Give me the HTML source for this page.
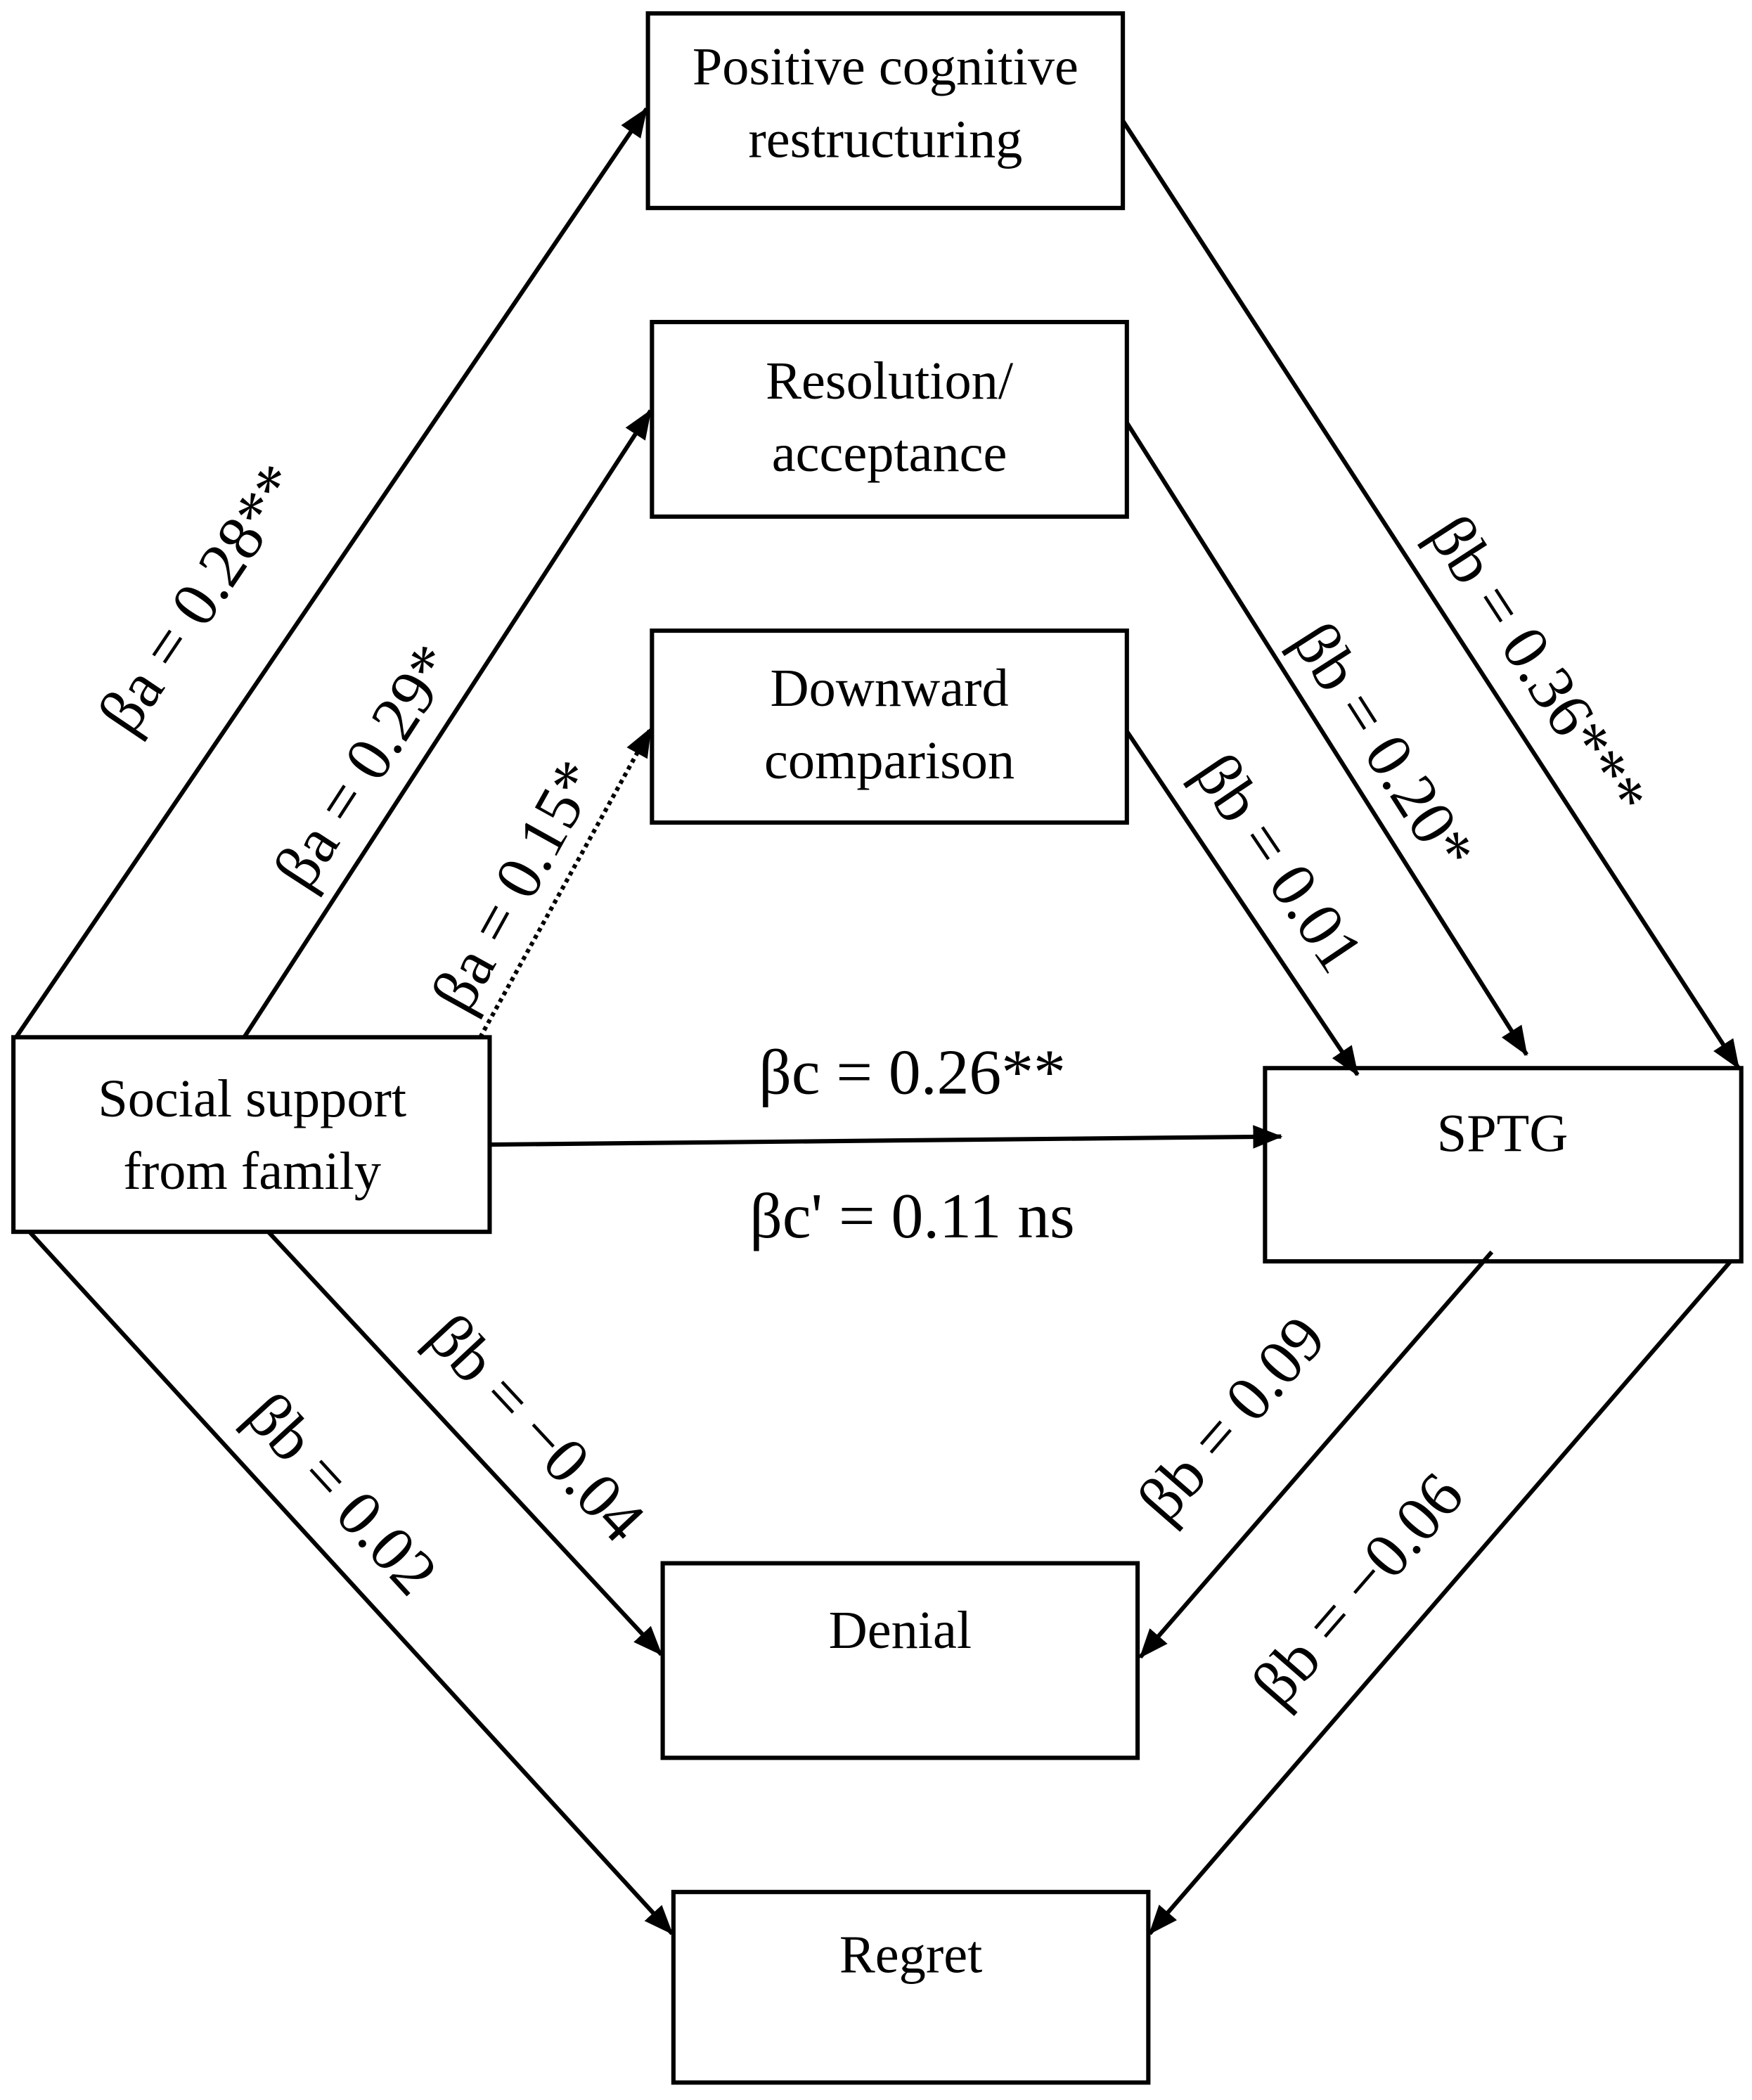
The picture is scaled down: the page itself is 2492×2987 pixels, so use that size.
<!DOCTYPE html>
<html><head><meta charset="utf-8"><style>
html,body{margin:0;padding:0;background:#fff;}
svg{display:block;}
text{font-family:"Liberation Serif",serif;fill:#000;}
</style></head><body>
<svg width="2492" height="2987" viewBox="0 0 1306 1565" preserveAspectRatio="none" xmlns="http://www.w3.org/2000/svg">
<defs>
<marker id="ar" viewBox="0 0 20 20" refX="19" refY="10" markerWidth="22" markerHeight="22" markerUnits="userSpaceOnUse" orient="auto">
<path d="M0,2 L20,10 L0,18 Z" fill="#000"/>
</marker>
</defs>
<g fill="#fff" stroke="#000" stroke-width="3.2">
<rect x="483" y="10" width="354" height="145"/>
<rect x="486" y="240" width="354" height="145"/>
<rect x="486" y="470" width="354" height="143"/>
<rect x="10" y="773" width="355" height="145"/>
<rect x="943" y="796" width="355" height="144"/>
<rect x="494" y="1165" width="354" height="145"/>
<rect x="502" y="1410" width="354" height="142"/>
</g>
<g stroke="#000" stroke-width="3.2" fill="none" marker-end="url(#ar)">
<line x1="12" y1="773" x2="482" y2="81"/>
<line x1="182" y1="773" x2="485" y2="306"/>
<line x1="358" y1="773" x2="485" y2="543" stroke-dasharray="3,3"/>
<line x1="837" y1="90" x2="1296" y2="796"/>
<line x1="840" y1="315" x2="1138" y2="786"/>
<line x1="840" y1="545" x2="1012" y2="801"/>
<line x1="365" y1="853" x2="955" y2="847"/>
<line x1="22" y1="918" x2="501" y2="1441"/>
<line x1="200" y1="918" x2="493" y2="1233"/>
<line x1="1112" y1="933" x2="850" y2="1235"/>
<line x1="1290" y1="940" x2="857" y2="1441"/>
</g>
<g font-size="40" text-anchor="middle">
<text x="660" y="63">Positive cognitive</text>
<text x="660" y="117">restructuring</text>
<text x="663" y="297">Resolution/</text>
<text x="663" y="351">acceptance</text>
<text x="663" y="526">Downward</text>
<text x="663" y="580">comparison</text>
<text x="188" y="832">Social support</text>
<text x="188" y="886">from family</text>
<text x="1120" y="858">SPTG</text>
<text x="671" y="1228">Denial</text>
<text x="679" y="1470">Regret</text>
</g>
<g font-size="48" text-anchor="middle">
<text x="680" y="815">βc = 0.26**</text>
<text x="680" y="922">βc' = 0.11 ns</text>
<text transform="translate(162,455) rotate(-56)">βa = 0.28**</text>
<text transform="translate(285,580) rotate(-57)">βa = 0.29*</text>
<text transform="translate(398,668) rotate(-61)">βa = 0.15*</text>
<text transform="translate(1133,505) rotate(57)">βb = 0.36***</text>
<text transform="translate(1018,565) rotate(57.5)">βb = 0.20*</text>
<text transform="translate(940,652) rotate(56)">βb = 0.01</text>
<text transform="translate(388,1075) rotate(47)">βb = −0.04</text>
<text transform="translate(243,1124) rotate(47.5)">βb = 0.02</text>
<text transform="translate(930,1068) rotate(-49)">βb = 0.09</text>
<text transform="translate(1024,1195) rotate(-49)">βb = −0.06</text>
</g>
</svg>
</body></html>
